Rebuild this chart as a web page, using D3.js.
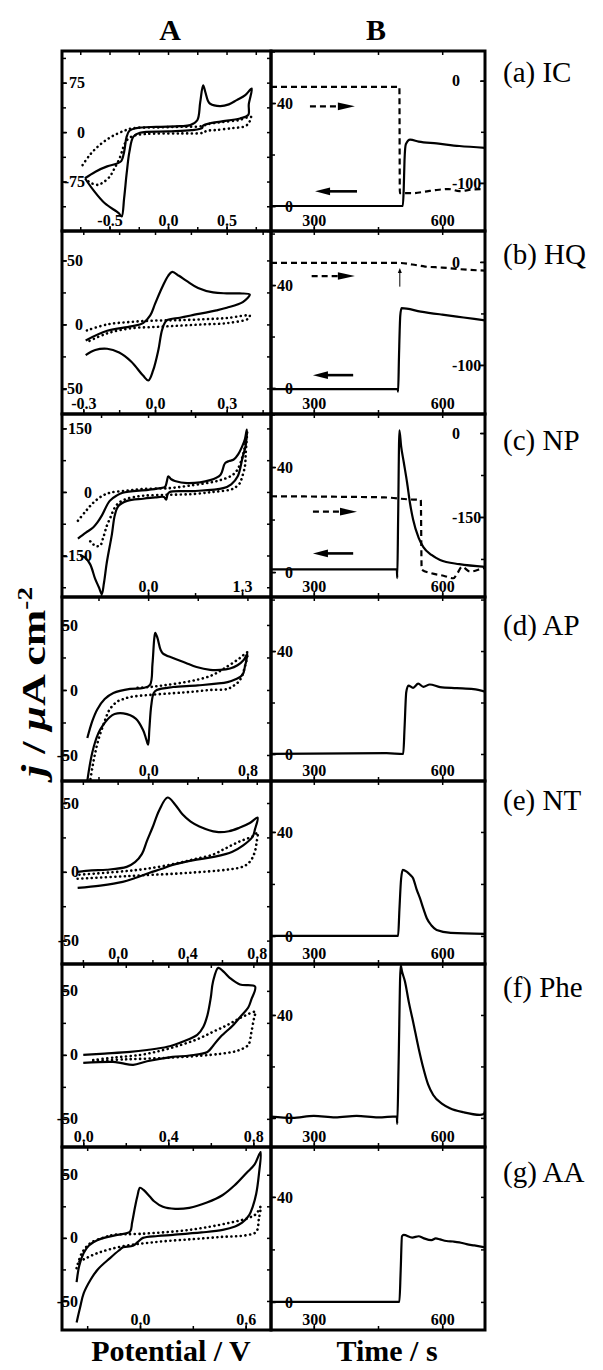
<!DOCTYPE html>
<html>
<head>
<meta charset="utf-8">
<title>CV and CA responses</title>
<script src="https://cdn.jsdelivr.net/npm/d3@7"></script>
<style>
  body { margin: 0; background: #fff; }
  svg { display: block; font-family: "Liberation Serif", "Times New Roman", Times, serif; }
</style>
</head>
<body>
<div id="chart"></div>
<script>
// ---- column A: cyclic voltammograms, [potential / V, j / uA cm-2]
const icCV = [[-0.71,-70],[-0.62,-60],[-0.52,-52],[-0.44,-48],[-0.40,-44],[-0.375,-30],[-0.355,-8],[-0.33,2],[-0.27,6],[-0.1,8],[0.1,9],[0.19,10.6],[0.25,18],[0.275,45],[0.3,71],[0.32,60],[0.34,48],[0.36,43],[0.444,39.4],[0.52,42],[0.587,48.5],[0.66,56],[0.715,66],[0.69,42],[0.686,26],[0.615,20.7],[0.45,16],[0.35,13],[0.3,10],[0.29,6],[0.2,3],[0,1],[-0.24,-1],[-0.296,-7],[-0.33,-30],[-0.353,-62],[-0.375,-100],[-0.396,-128],[-0.42,-123],[-0.54,-108],[-0.638,-88],[-0.71,-70]];
const icBlank = [[-0.73,-50],[-0.67,-35],[-0.6,-22],[-0.52,-11],[-0.44,-3],[-0.36,3],[-0.3,6],[-0.1,7],[0.1,8],[0.29,9],[0.34,12],[0.45,15],[0.6,18],[0.71,23],[0.69,14],[0.66,9],[0.55,6],[0.4,3],[0.33,2],[0.3,-1],[0.1,-2],[-0.2,-3],[-0.3,-6],[-0.35,-12],[-0.38,-22],[-0.41,-38],[-0.46,-56],[-0.5,-68],[-0.56,-77],[-0.6,-80],[-0.66,-77],[-0.7,-72]];
const hqCV = [[-0.29,-12.5],[-0.2,-5],[-0.1,-1.5],[-0.05,1],[-0.02,7],[0.0,16],[0.03,29],[0.055,38],[0.072,41],[0.1,38],[0.132,34],[0.18,28.5],[0.243,25],[0.3,24.3],[0.354,24.2],[0.396,23.4],[0.367,17.4],[0.3,13],[0.257,11],[0.15,7],[0.104,5.2],[0.049,3.1],[0.03,-4],[0.014,-20],[-0.008,-36],[-0.028,-43.8],[-0.05,-40],[-0.1,-29],[-0.15,-22],[-0.2,-19],[-0.25,-20],[-0.29,-24]];
const hqBlank = [[-0.285,-4.7],[-0.2,0],[-0.1,2],[0,3],[0.1,3.3],[0.2,4],[0.3,5],[0.396,6.8],[0.39,4.5],[0.3,1],[0.2,0],[0.1,-1],[0,-2],[-0.1,-3],[-0.2,-7],[-0.285,-13.8]];
const npCV = [[-0.97,-110],[-0.86,-96],[-0.76,-84],[-0.7,-72],[-0.64,-56],[-0.53,-21],[-0.43,-8],[-0.35,-2],[0,5],[0.17,9],[0.235,12],[0.26,25],[0.28,37],[0.32,30],[0.37,26],[0.54,21],[0.86,28],[1.0,40],[1.065,68],[1.12,73],[1.18,76],[1.25,90],[1.3,107],[1.34,125],[1.365,147],[1.35,110],[1.31,84],[1.24,37],[1.15,18],[1.04,9],[0.62,2],[0.3,0],[0.27,-6],[0.25,-18],[0.22,-12],[0.1,-13],[-0.07,-16],[-0.29,-21],[-0.41,-33],[-0.46,-55],[-0.5,-100],[-0.57,-166],[-0.61,-215],[-0.64,-241],[-0.68,-225],[-0.73,-206],[-0.8,-171],[-0.87,-155],[-0.94,-150]];
const npBlank = [[-0.97,-68],[-0.86,-45],[-0.76,-26],[-0.64,-10],[-0.53,-2],[-0.3,3],[-0.07,7],[0.3,9],[0.62,16],[0.85,22],[1.0,28],[1.15,38],[1.23,51],[1.3,80],[1.34,108],[1.37,143],[1.35,90],[1.34,61],[1.3,35],[1.27,21],[1.2,10],[1.13,5],[0.9,0],[0.62,-5],[0.25,-7],[-0.07,-9],[-0.29,-16],[-0.4,-25],[-0.46,-37],[-0.52,-60],[-0.57,-80],[-0.62,-108],[-0.66,-126],[-0.72,-128],[-0.78,-120],[-0.84,-108]];
const apCV = [[-0.49,-37],[-0.45,-24],[-0.41,-15],[-0.35,-7],[-0.28,-2.3],[-0.145,0.8],[-0.04,1.5],[0.015,4],[0.035,20],[0.05,40],[0.058,44],[0.075,40],[0.1,31],[0.12,28],[0.2,24.6],[0.3,21],[0.39,17.7],[0.5,15.5],[0.58,15.4],[0.66,16.5],[0.72,19],[0.77,23],[0.8,28],[0.78,18],[0.76,11.5],[0.7,8],[0.64,6],[0.4,3.5],[0.2,2.3],[0.07,0],[0.045,-2.3],[0.025,-12],[0.01,-30],[0,-42],[-0.015,-38],[-0.04,-31],[-0.1,-22],[-0.2,-18],[-0.27,-18.5],[-0.31,-21],[-0.37,-28],[-0.4,-33],[-0.45,-48],[-0.49,-70]];
const apBlank = [[-0.47,-72],[-0.45,-60],[-0.43,-50],[-0.4,-38],[-0.35,-24],[-0.31,-15],[-0.25,-9],[-0.2,-7],[-0.145,-5.4],[0.016,-3.8],[0.2,-2.5],[0.34,-1.5],[0.5,0],[0.64,0.8],[0.7,4],[0.74,7.7],[0.78,18],[0.8,29],[0.77,27],[0.74,24.6],[0.62,17],[0.52,11.5],[0.4,8],[0.26,5.4],[0.12,3.5],[0.016,2.3],[-0.1,1.5]];
const ntCV = [[-0.23,0],[-0.15,1],[-0.063,1.5],[0.052,3.6],[0.1,7],[0.14,13],[0.167,22],[0.2,32],[0.24,45],[0.287,54],[0.33,49],[0.374,41.6],[0.42,36.5],[0.47,33],[0.57,29],[0.64,29.5],[0.70,32],[0.76,35.5],[0.805,39.4],[0.79,31],[0.776,25.5],[0.72,19],[0.66,14.6],[0.56,11],[0.454,8.8],[0.316,5],[0.25,2],[0.184,-0.7],[0.1,-4.5],[0.029,-7.3],[-0.1,-10],[-0.23,-11.7]];
const ntBlank = [[-0.23,-5],[0,-3.5],[0.15,-2.5],[0.414,-0.7],[0.626,1.5],[0.7,3],[0.74,5],[0.77,9],[0.79,15],[0.8,22],[0.805,28.5],[0.78,26],[0.7,22],[0.62,17],[0.546,12.4],[0.45,9.5],[0.356,6.6],[0.167,2.2],[0,0],[-0.23,-2.2]];
const pheCV = [[0,0],[0.1,1],[0.22,2.3],[0.3,3.8],[0.395,6.3],[0.47,10.5],[0.536,15.6],[0.565,22],[0.584,31],[0.6,45],[0.61,57],[0.635,68],[0.66,65],[0.69,60],[0.737,55],[0.808,53.4],[0.79,43],[0.776,37],[0.74,30],[0.706,23.4],[0.645,14],[0.61,7],[0.584,2.3],[0.5,-0.5],[0.42,-1.6],[0.3,-5],[0.235,-7.8],[0.18,-6.5],[0.14,-5.5],[0,-6.3]];
const pheBlank = [[0.047,-4],[0.15,-2],[0.27,0],[0.37,3.5],[0.46,7.8],[0.54,12.5],[0.61,18],[0.68,23.5],[0.74,29],[0.81,33.6],[0.805,30],[0.8,26],[0.79,17],[0.776,7.8],[0.73,3.5],[0.68,1.6],[0.6,0],[0.4,-2.3],[0.2,-3.5],[0.047,-4.7]];
const aaCV = [[-0.36,-67],[-0.34,-55],[-0.32,-44],[-0.28,-33],[-0.24,-25],[-0.17,-16],[-0.12,-10],[-0.096,-7.5],[-0.04,-6.3],[-0.01,-3],[0.017,0],[0.1,1.5],[0.187,2.4],[0.35,4.3],[0.47,6.3],[0.54,9],[0.58,12],[0.62,18],[0.64,24.6],[0.66,35],[0.675,50],[0.685,68],[0.65,58],[0.606,51.6],[0.54,42],[0.47,34],[0.38,28],[0.28,23.8],[0.2,23],[0.13,24.6],[0.08,29],[0.057,32.5],[0.02,38],[0,39.7],[-0.015,33],[-0.028,24.6],[-0.045,12],[-0.057,4.8],[-0.13,2.4],[-0.24,-1.6],[-0.29,-6],[-0.32,-12],[-0.345,-22],[-0.36,-35]];
const aaBlank = [[-0.36,-24],[-0.33,-12],[-0.28,-4],[-0.2,0.5],[-0.15,2.4],[0,3.2],[0.28,6.3],[0.51,12],[0.62,16],[0.66,19],[0.685,24.6],[0.675,15],[0.66,4.8],[0.6,2],[0.47,0.8],[0.3,-1],[0.096,-3.2],[-0.11,-7],[-0.24,-12],[-0.32,-17],[-0.36,-20]];

// ---- column B: amperometric responses, [time / s, j / uA cm-2]
const icCA = [[200,0],[508,0],[510,6],[512,18],[515,24],[525,25.8],[545,25],[587,24.3],[640,23.3],[700,22.6]];
const icCAdash = [[200,-6],[500,-6],[501,-110],[530,-110],[560,-108.5],[585,-107],[615,-106],[640,-108],[670,-106.5],[700,-106]];
const hqCA = [[200,-0.4],[496,-0.4],[497,-1.4],[499,12],[502,28],[505,31],[550,29.7],[600,28.5],[650,27.4],[700,26.3]];
const hqCAdash = [[200,-1],[500,-1],[530,-2.5],[560,-4.5],[600,-5.5],[640,-7],[700,-8.5]];
const npCA = [[200,1],[494,1],[495,-2.3],[497,20],[500,54],[504,48],[510,42],[518,34],[525,26],[532,20],[545,13],[556,9.5],[575,6.5],[595,4.6],[640,3],[700,2]];
const npCAdash = [[200,-113],[370,-114],[465,-115],[520,-118.5],[550,-119.6],[552,-244],[572,-250],[603,-255],[626,-259.5],[636,-250],[646,-239],[665,-247.6],[696,-241.6],[700,-241]];
const apCA = [[200,0],[470,0.3],[509,0],[512,10],[516,24],[521,26.6],[532,25.7],[544,27.3],[556,26.1],[571,27],[595,26],[634,25.6],[673,25.2],[700,24.2]];
const ntCA = [[200,0],[497,0],[500,10],[504,22],[508,25.4],[517,24.7],[525,23.5],[532,22.2],[540,18],[548,14.5],[556,10.5],[564,6.8],[575,4],[587,2.3],[620,1.2],[700,0.8]];
const pheCA = [[200,0.5],[250,0],[300,0.8],[350,0.2],[400,0.8],[450,0.2],[494,0.6],[495,-2.3],[498,20],[503,59.4],[506,57],[513,53],[522,45],[532,37.4],[545,27],[556,19.3],[567,13],[579,8.9],[600,5.5],[618,3.8],[650,2.2],[688,1.2],[697,1.5],[700,2.5]];
const aaCA = [[200,0],[500,0],[503,12],[506,25],[510,25.5],[530,24.5],[545,25],[556,24.3],[575,23.5],[585,24.2],[595,23.8],[610,23.2],[626,23],[640,22.7],[657,22],[675,21.5],[700,20.8]];

// arrows: [t start, t end, j]
const arrowDash = [[291,396,38.7],[295,396,43.5],[298,401,23]];
const arrowSolid = [[303,401,5.7],[298,392,5],[298,392,7.1]];
const hqMarker = [501,-24,-6];   // t, from, to (right axis)

const rowNames = ["(a) IC","(b) HQ","(c) NP","(d) AP","(e) NT","(f) Phe","(g) AA"];
const cvSolid = [icCV, hqCV, npCV, apCV, ntCV, pheCV, aaCV];
const cvDotted = [icBlank, hqBlank, npBlank, apBlank, ntBlank, pheBlank, aaBlank];
const caSolid = [icCA, hqCA, npCA, apCA, ntCA, pheCA, aaCA];
const caDashed = [icCAdash, hqCAdash, npCAdash];

const cvXDomains = [[-0.906,0.88],[-0.389,0.485],[-1.19,1.7],[-0.694,0.99],[-0.32,0.882],[-0.1,0.883],[-0.443,0.744]];
const cvYDomains = [[-150,123],[-70,73],[-248,184],[-70,71.5],[-67,66],[-72,71],[-73,72]];
const cvXTicks = [[-0.5,0,0.5],[-0.3,0,0.3],[0,1.3],[0,0.8],[0,0.4,0.8],[0,0.4,0.8],[0,0.6]];
const cvXMinor = [0.25,0.15,0.65,0.4,0.2,0.2,0.3];
const cvYTicks = [[-75,0,75],[-50,0,50],[-150,0,150],[-50,0,50],[-50,0,50],[-50,0,50],[-50,0,50]];
const cvYMinor = [37.5,25,75,25,25,25,25];

const caXDomain = [200,700];
const caXTicks = [300,600];
const caYDomains = [[-9.7,60.2],[-10.1,61],[-9.5,60.2],[-10.5,61],[-10.8,59.6],[-11.3,59.8],[-10.7,59]];
const caYTicks = [0,40];
const caRDomains = [[-147,29],[-147.6,30],[-293,34]];
const caRTicks = [[-100,0],[-100,0],[-150,0]];
const caRMinor = [50,50,75];

// ---- layout
const W = 603, H = 1370;
const rowTops = [51,231,414,597,781,964,1147], rowBottom = 1330;
const colA = [62,271], colB = [271,485];
const cvLabelPad = [23,21,30,16,17,16,16];
const nameDy = [31,33,36,38,29,33,35];
const serif = '"Liberation Serif", "Times New Roman", Times, serif';

const svg = d3.select("#chart").append("svg").attr("width", W).attr("height", H);
const defs = svg.append("defs");

const fmtV = v => v.toFixed(1);
const fmtI = v => String(v);
const blank = () => "";

function steps(domain, step) {
  const lo = Math.ceil(domain[0] / step - 1e-9), hi = Math.floor(domain[1] / step + 1e-9);
  return d3.range(lo, hi + 1).map(k => +(k * step).toFixed(6));
}

function ticks(g, axisFn, scale, transform, values, size, fmt, pad) {
  const a = axisFn(scale).tickValues(values).tickSizeInner(-size).tickSizeOuter(0).tickFormat(fmt || blank);
  if (pad !== undefined) a.tickPadding(pad);
  g.append("g").attr("transform", transform).call(a).call(s => {
    s.select(".domain").remove();
    s.attr("font-family", serif).attr("font-size", 16).attr("font-weight", "bold");
    s.selectAll(".tick line").attr("stroke", "#000").attr("stroke-width", 1.5);
    s.selectAll(".tick text").attr("fill", "#000");
  });
}

function clipped(g, id, x0, x1, y0, y1) {
  defs.append("clipPath").attr("id", id).append("rect")
    .attr("x", x0).attr("y", y0).attr("width", x1 - x0).attr("height", y1 - y0);
  return g.append("g").attr("clip-path", `url(#${id})`);
}

function frame(g, x0, x1, y0, y1) {
  g.append("rect").attr("x", x0).attr("y", y0).attr("width", x1 - x0).attr("height", y1 - y0)
    .attr("fill", "none").attr("stroke", "#000").attr("stroke-width", 3);
}

const solid = p => p.attr("fill", "none").attr("stroke", "#000").attr("stroke-width", 2.2).attr("stroke-linejoin", "round");
const dotted = p => p.attr("fill", "none").attr("stroke", "#000").attr("stroke-width", 2.6)
  .attr("stroke-linecap", "round").attr("stroke-dasharray", "0.1 4.6");
const dashed = p => p.attr("fill", "none").attr("stroke", "#000").attr("stroke-width", 2.2).attr("stroke-dasharray", "6 4");

rowNames.forEach((name, i) => {
  const y0 = rowTops[i], y1 = i < 6 ? rowTops[i + 1] : rowBottom;

  // ---------- column A (CV)
  {
    const [x0, x1] = colA;
    const g = svg.append("g");
    const x = d3.scaleLinear().domain(cvXDomains[i]).range([x0, x1]);
    const y = d3.scaleLinear().domain(cvYDomains[i]).range([y1, y0]);
    const line = d3.line().x(d => x(d[0])).y(d => y(d[1])).curve(d3.curveCatmullRom.alpha(0.5));
    const c = clipped(g, "clipA" + i, x0, x1, y0, y1);
    c.append("path").datum(cvDotted[i]).attr("d", line).call(dotted);
    c.append("path").datum(cvSolid[i]).attr("d", line).call(solid);

    const xm = steps(cvXDomains[i], cvXMinor[i]);
    const ym = steps(cvYDomains[i], cvYMinor[i]);
    ticks(g, d3.axisBottom, x, `translate(0,${y1})`, xm, 4);
    ticks(g, d3.axisTop, x, `translate(0,${y0})`, xm, 4);
    ticks(g, d3.axisRight, y, `translate(${x1},0)`, ym, 4);
    ticks(g, d3.axisLeft, y, `translate(${x0},0)`, ym, 4);
    ticks(g, d3.axisBottom, x, `translate(0,${y1})`, cvXTicks[i], 5, fmtV, -16);
    ticks(g, d3.axisLeft, y, `translate(${x0},0)`, cvYTicks[i], 5, fmtI, -cvLabelPad[i]);
    frame(g, x0, x1, y0, y1);
  }

  // ---------- column B (amperometry)
  {
    const [x0, x1] = colB;
    const g = svg.append("g");
    const x = d3.scaleLinear().domain(caXDomain).range([x0, x1]);
    const y = d3.scaleLinear().domain(caYDomains[i]).range([y1, y0]);
    const line = d3.line().x(d => x(d[0])).y(d => y(d[1])).curve(d3.curveMonotoneX);
    const c = clipped(g, "clipB" + i, x0, x1, y0, y1);

    let yr = null;
    if (i < caDashed.length) {
      yr = d3.scaleLinear().domain(caRDomains[i]).range([y1, y0]);
      const lineR = d3.line().x(d => x(d[0])).y(d => yr(d[1])).curve(d3.curveMonotoneX);
      c.append("path").datum(caDashed[i]).attr("d", lineR).call(dashed);
    }
    c.append("path").datum(caSolid[i]).attr("d", line).call(solid);

    if (i < arrowDash.length) {
      const [a0, a1, aj] = arrowDash[i];
      const ay = y(aj), tip = x(a1);
      c.append("line").attr("x1", x(a0)).attr("x2", tip - 15).attr("y1", ay).attr("y2", ay).call(dashed);
      c.append("path").attr("d", `M${tip},${ay}L${tip - 17},${ay - 3.8}L${tip - 17},${ay + 3.8}Z`).attr("fill", "#000");
      const [b0, b1, bj] = arrowSolid[i];
      const by = y(bj), btip = x(b0);
      c.append("line").attr("x1", btip + 12).attr("x2", x(b1)).attr("y1", by).attr("y2", by)
        .attr("stroke", "#000").attr("stroke-width", 2.6);
      c.append("path").attr("d", `M${btip},${by}L${btip + 15},${by - 3.8}L${btip + 15},${by + 3.8}Z`).attr("fill", "#000");
    }
    if (i === 1) {
      const mx = x(hqMarker[0]), mA = yr(hqMarker[1]), mB = yr(hqMarker[2]);
      c.append("line").attr("x1", mx).attr("x2", mx).attr("y1", mA).attr("y2", mB + 3)
        .attr("stroke", "#000").attr("stroke-width", 1);
      c.append("path").attr("d", `M${mx},${mB}L${mx - 2},${mB + 5}L${mx + 2},${mB + 5}Z`).attr("fill", "#000");
    }

    const xm = steps(caXDomain, 150);
    const ym = steps(caYDomains[i], 20);
    ticks(g, d3.axisBottom, x, `translate(0,${y1})`, xm, 4);
    ticks(g, d3.axisTop, x, `translate(0,${y0})`, xm, 4);
    ticks(g, d3.axisLeft, y, `translate(${x0},0)`, ym, 4);
    ticks(g, d3.axisBottom, x, `translate(0,${y1})`, caXTicks, 5, fmtI, -16);
    ticks(g, d3.axisLeft, y, `translate(${x0},0)`, caYTicks, 5, fmtI, -22);
    if (yr) {
      ticks(g, d3.axisRight, yr, `translate(${x1},0)`, steps(caRDomains[i], caRMinor[i]), 4);
      ticks(g, d3.axisRight, yr, `translate(${x1},0)`, caRTicks[i], 5, fmtI, -33);
    } else {
      ticks(g, d3.axisRight, y, `translate(${x1},0)`, ym, 4);
    }
    frame(g, x0, x1, y0, y1);
  }

  svg.append("text").attr("x", 503).attr("y", y0 + nameDy[i]).attr("font-family", serif)
    .attr("font-size", 29).attr("fill", "#000").text(name);
});

// headers and axis titles
svg.append("text").attr("x", 170).attr("y", 40).attr("text-anchor", "middle").attr("font-family", serif)
  .attr("font-size", 30).attr("font-weight", "bold").text("A");
svg.append("text").attr("x", 376).attr("y", 40).attr("text-anchor", "middle").attr("font-family", serif)
  .attr("font-size", 30).attr("font-weight", "bold").text("B");
svg.append("text").attr("x", 171).attr("y", 1361).attr("text-anchor", "middle").attr("font-family", serif)
  .attr("font-size", 30).attr("font-weight", "bold").text("Potential / V");
svg.append("text").attr("x", 387).attr("y", 1361).attr("text-anchor", "middle").attr("font-family", serif)
  .attr("font-size", 30).attr("font-weight", "bold").text("Time / s");

const yl = svg.append("text").attr("transform", "translate(45,682) rotate(-90)").attr("font-family", serif)
  .attr("text-anchor", "middle").attr("font-size", 34).attr("font-weight", "bold")
  .attr("textLength", 190).attr("lengthAdjust", "spacingAndGlyphs");
yl.append("tspan").attr("font-style", "italic").text("j");
yl.append("tspan").text(" / ");
yl.append("tspan").attr("font-style", "italic").text("\u03bc");
yl.append("tspan").text("A cm");
yl.append("tspan").attr("font-size", 21).attr("dy", -13).text("-2");
</script>
</body>
</html>
